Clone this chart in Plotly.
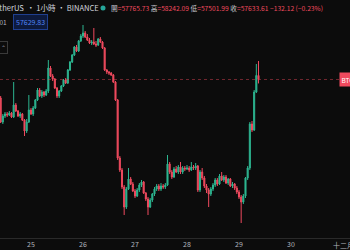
import pandas as pd
import plotly.graph_objects as go

# Hourly BTC/USDT candles (Nov 24 10:00 -> Nov 29 09:00, 2021)
open_ = [57022, 56230, 56428, 56494, 56461, 56527, 56395, 56791, 56593, 56428,
         56494, 56296, 55933, 56230, 56626, 56494, 56692, 56956, 57286, 57088,
         57220, 57121, 57253, 58012, 57748, 57649, 57352, 57088, 57253, 57418,
         57616, 57517, 57946, 58210, 58441, 58705, 58573, 58903, 59068, 59167,
         59035, 58936, 58837, 58870, 58804, 58771, 58969, 58870, 58672, 57946,
         57880, 57847, 57781, 57550, 56956, 55042, 54646, 54085, 53425, 54019,
         54349, 54184, 53953, 53788, 53986, 54151, 54250, 53887, 53689, 53425,
         53656, 53854, 54019, 54118, 54019, 54118, 54085, 54151, 54844, 54580,
         54415, 54679, 54580, 54745, 54580, 54712, 54679, 54712, 54646, 54745,
         54712, 54778, 53986, 54580, 54382, 54118, 53986, 53854, 54019, 54151,
         54316, 54184, 54448, 54316, 54415, 54217, 54349, 54118, 54184, 54052,
         53920, 53755, 53590, 53788, 54382, 54712, 56164, 55966, 57220, 57765.73]
close = [56230, 56428, 56494, 56461, 56527, 56395, 56791, 56593, 56428, 56494,
         56296, 55933, 56230, 56626, 56494, 56692, 56956, 57286, 57088, 57220,
         57121, 57253, 58012, 57748, 57649, 57352, 57088, 57253, 57418, 57616,
         57517, 57946, 58210, 58441, 58705, 58573, 58903, 59068, 59167, 59035,
         58936, 58837, 58870, 58804, 58771, 58969, 58870, 58672, 57946, 57880,
         57847, 57781, 57550, 56956, 55042, 54646, 54085, 53425, 54019, 54349,
         54184, 53953, 53788, 53986, 54151, 54250, 53887, 53689, 53425, 53656,
         53854, 54019, 54118, 54019, 54118, 54085, 54151, 54844, 54580, 54415,
         54679, 54580, 54745, 54580, 54712, 54679, 54712, 54646, 54745, 54712,
         54778, 53986, 54580, 54382, 54118, 53986, 53854, 54019, 54151, 54316,
         54184, 54448, 54316, 54415, 54217, 54349, 54118, 54184, 54052, 53920,
         53755, 53590, 53788, 54382, 54712, 56164, 55966, 57220, 57765.73, 57633.61]
high = [57088, 56494, 56560, 56560, 56593, 56560, 57550, 56857, 56626, 56560,
        56527, 56329, 56329, 57121, 56692, 56758, 56989, 57352, 57352, 57286,
        57253, 57319, 58276, 58078, 57814, 57682, 57385, 57286, 57451, 57649,
        57682, 57979, 58243, 58474, 58738, 58771, 58936, 59134, 59431, 59233,
        59134, 59002, 58936, 59332, 58903, 59002, 59035, 58903, 58705, 57979,
        57913, 57880, 57814, 57583, 56989, 55108, 54712, 54151, 54085, 54712,
        54415, 54250, 54019, 54052, 54217, 54316, 54283, 53920, 53755, 53722,
        53887, 54085, 54184, 54184, 54217, 54184, 54217, 55141, 54910, 54646,
        54745, 54778, 54811, 54910, 54778, 54778, 54811, 54778, 54910, 54811,
        54877, 54811, 54646, 54712, 54448, 54184, 54052, 54085, 54217, 54382,
        54382, 54514, 54580, 54481, 54481, 54382, 54382, 54250, 54217, 54118,
        53986, 53821, 53854, 54415, 54778, 56230, 56263, 57286, 58144, 58242.09]
low = [56197, 56164, 56362, 56395, 56428, 56362, 56362, 56560, 56395, 56362,
       56263, 55768, 55867, 56197, 56461, 56428, 56659, 56923, 57055, 57022,
       57055, 57088, 57187, 57715, 57583, 57319, 57022, 57022, 57220, 57385,
       57484, 57484, 57913, 58177, 58408, 58540, 58540, 58870, 59002, 59002,
       58903, 58804, 58771, 58771, 58705, 58738, 58837, 58639, 57913, 57814,
       57781, 57748, 57517, 56923, 54976, 54580, 54019, 53161, 53359, 53986,
       54151, 53920, 53722, 53755, 53920, 54085, 53854, 53623, 53161, 53392,
       53590, 53788, 53953, 53953, 53953, 54019, 54019, 54118, 54514, 54349,
       54382, 54547, 54514, 54514, 54514, 54613, 54646, 54580, 54613, 54646,
       54646, 53920, 53920, 54316, 54052, 53887, 53425, 53788, 53953, 54085,
       54118, 54151, 54283, 54250, 54184, 54151, 54085, 54052, 53986, 53854,
       53689, 52897, 53524, 53722, 54316, 54646, 55900, 55933, 57187, 57501.99]

times = pd.date_range("2021-11-24 10:00", periods=len(open_), freq="h")

tick_vals = pd.date_range("2021-11-25", "2021-11-30", freq="D")
tick_text = ["25", "26", "27", "28", "29", "30"]
month_tick = pd.Timestamp("2021-12-01")
month_label = "十二月"

symbol = "比特幣 / TetherUS"
interval = "1小時"
exchange = "BINANCE"

last_open, last_high, last_low, last_close = open_[-1], high[-1], low[-1], close[-1]
change = -132.12
change_pct = -0.23
buy_price = 57629.83
spread = "0.01"

UP = "#2db590"
DOWN = "#ef4a5e"
BG = "#0c0c0c"
W, H = 350, 250
PLOT_B = 238  # pixel bottom of the price pane

fig = go.Figure(go.Candlestick(
    x=times, open=open_, high=high, low=low, close=close,
    increasing=dict(line=dict(color=UP, width=1), fillcolor=UP),
    decreasing=dict(line=dict(color=DOWN, width=1), fillcolor=DOWN),
    whiskerwidth=0, showlegend=False, hoverinfo="skip",
))

# time scale: Nov 25 00:00 at x=31 px, 52 px per day
px_per_hour = 52 / 24
t25 = pd.Timestamp("2021-11-25")
x0 = t25 - pd.Timedelta(hours=31 / px_per_hour)
x1 = x0 + pd.Timedelta(hours=W / px_per_hour)

def py(y):
    return 1 - y / PLOT_B

def px(x):
    return x / W

TICKFONT = dict(family="Noto Sans CJK TC", size=7, color="#b2b5be")

fig.update_layout(
    width=W, height=H,
    margin=dict(l=0, r=0, t=0, b=H - PLOT_B),
    paper_bgcolor=BG, plot_bgcolor=BG,
    boxgap=0.3,
    xaxis=dict(range=[x0, x1], rangeslider=dict(visible=False),
               tickvals=tick_vals, ticktext=tick_text, showgrid=False,
               zeroline=False, showline=True, linecolor="#2a2a2a", linewidth=1,
               ticks="", tickfont=TICKFONT, fixedrange=True),
    yaxis=dict(range=[52402, 60256], visible=False, showgrid=False, fixedrange=True),
    font=dict(family="Noto Sans CJK TC"),
)

# month label at the right edge of the time scale
fig.add_annotation(xref="x", yref="paper", x=month_tick, y=py(245),
                   xanchor="center", yanchor="middle", showarrow=False,
                   text=month_label, font=TICKFONT)

# last-price line
fig.add_shape(type="line", xref="paper", x0=0, x1=1, yref="y",
              y0=last_close, y1=last_close,
              line=dict(color="rgba(239,74,94,0.45)", width=1, dash="dot"))

# header: symbol / interval / exchange
HEAD = dict(size=7.6, color="#d1d4dc", family="Noto Sans CJK TC")
fig.add_annotation(xref="paper", yref="paper", x=px(25.5), y=py(8),
                   xanchor="right", yanchor="middle", showarrow=False,
                   text=symbol, font=HEAD)
fig.add_annotation(xref="paper", yref="paper", x=px(25), y=py(8),
                   xanchor="left", yanchor="middle", showarrow=False,
                   text=f"· {interval} · {exchange}", font=HEAD)
# market status dot
fig.add_shape(type="circle", xref="paper", yref="paper",
              x0=px(100.5), x1=px(105.5), y0=py(10.5), y1=py(5.5),
              fillcolor="#26a69a", line=dict(width=0))

lab = "#c8cad0"
val = "#ef4a5e"
ohlc_text = (f'<span style="color:{lab}">開</span>={last_open:.2f} '
             f'<span style="color:{lab}">高</span>={last_high:.2f} '
             f'<span style="color:{lab}">低</span>={last_low:.2f} '
             f'<span style="color:{lab}">收</span>={last_close:.2f} '
             f'{change:.2f} ({change_pct:.2f}%)').replace("-", "−")
fig.add_annotation(xref="paper", yref="paper", x=px(109), y=py(8),
                   xanchor="left", yanchor="middle", showarrow=False,
                   text=ohlc_text, font=dict(size=6.7, color=val, family="Noto Sans CJK TC"))

# spread + buy button
fig.add_annotation(xref="paper", yref="paper", x=px(9), y=py(22),
                   xanchor="right", yanchor="middle", showarrow=False,
                   text=spread, font=dict(size=6.5, color="#b2b5be"))
fig.add_annotation(xref="paper", yref="paper", x=px(30), y=py(22),
                   xanchor="center", yanchor="middle", showarrow=False,
                   text=f"{buy_price:.2f}", font=dict(size=7, color="#4f84f5"),
                   bgcolor="#0d1a3d", bordercolor="#1f3f8f", borderwidth=1, borderpad=2)

# collapse icon
fig.add_annotation(xref="paper", yref="paper", x=px(3), y=py(47.5),
                   xanchor="center", yanchor="middle", showarrow=False,
                   text="⌃", font=dict(size=6, color="#9598a1"),
                   bordercolor="#3a3a3a", borderwidth=1, borderpad=1)

# symbol label on right edge
fig.add_annotation(xref="paper", yref="y", x=px(339), y=last_close,
                   xanchor="left", yanchor="middle", showarrow=False,
                   text="BTC", font=dict(size=6.5, color="#ffffff"),
                   bgcolor="#ef4a5e", borderpad=1.5)

fig.write_html("out.html")
